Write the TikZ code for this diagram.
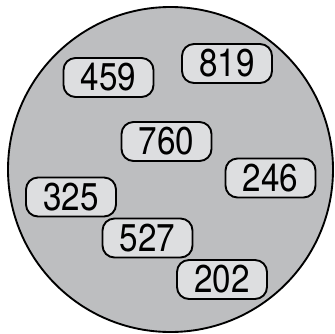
\documentclass[tikz,border=0pt]{standalone}
\usepackage{fontspec}
\setmainfont{TeX Gyre Heros}[FakeStretch=0.86]
\definecolor{fondo}{RGB}{189,190,192}
\definecolor{caja}{RGB}{221,222,224}
\tikzset{
  numero/.style={draw, line width=1.6pt, fill=caja, rounded corners=0.36cm,
    minimum width=2.7cm, minimum height=1.17cm, inner sep=0pt,
    font=\fontsize{33}{35}\selectfont},
}
\begin{document}
\begin{tikzpicture}[x=0.03cm, y=-0.03cm]
    \useasboundingbox (0,0) rectangle (334,334);
    % Circulo
    \draw[line width=1.6pt, fill=fondo] (170.5,169.5) circle (162.5);
    % Numeros
    \node[numero] (n459) at (108.5,77.5) {459};
    \node[numero] (n819) at (227,63.5) {819};
    \node[numero] (n760) at (166.5,141.5) {760};
    \node[numero] (n246) at (270.5,178) {246};
    \node[numero] (n325) at (71,197) {325};
    \node[numero] (n527) at (147.5,238) {527};
    \node[numero] (n202) at (222,279.5) {202};
\end{tikzpicture}
\end{document}
